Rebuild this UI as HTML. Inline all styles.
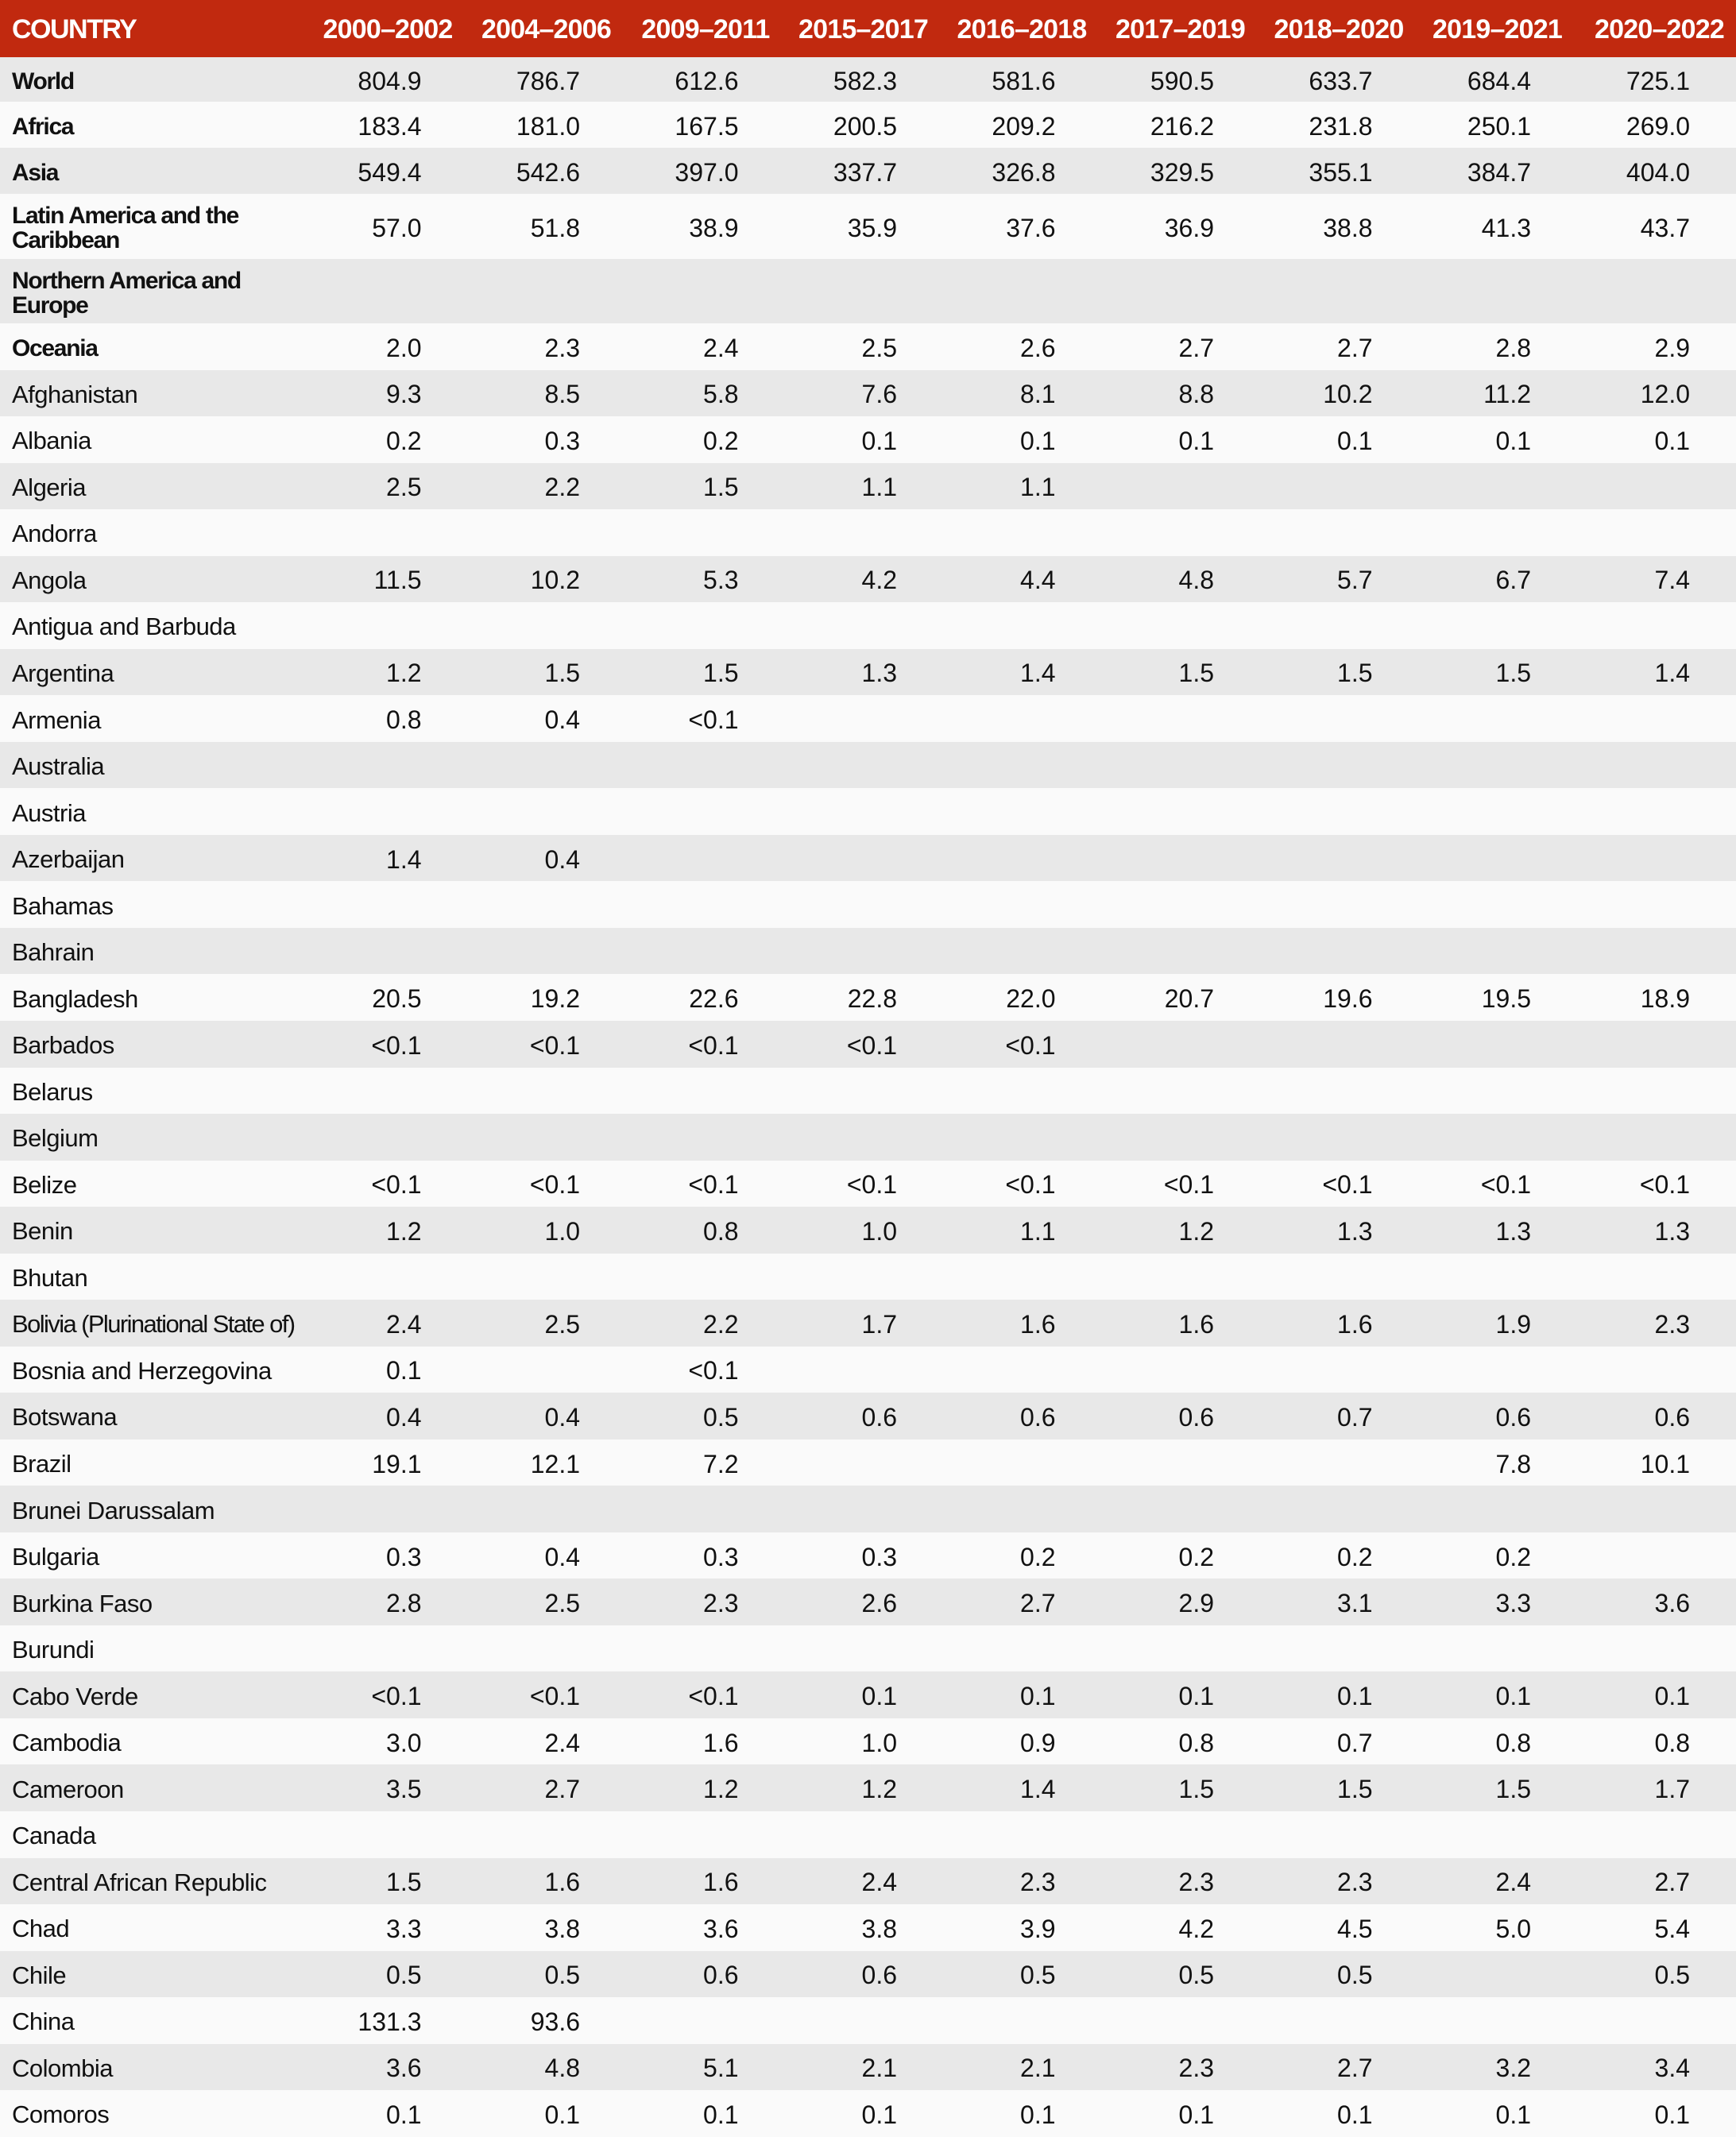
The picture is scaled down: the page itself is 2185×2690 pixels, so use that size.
<!DOCTYPE html>
<html><head><meta charset="utf-8"><style>
html,body{margin:0;padding:0;background:#fafafa;}
body{width:2185px;height:2688px;overflow:hidden;font-family:"Liberation Sans",sans-serif;}
table{border-collapse:collapse;table-layout:fixed;width:2185px;}
td,th{padding:0;vertical-align:middle;white-space:nowrap;}
th{background:#c1290f;color:#fff;font-size:34px;font-weight:bold;text-align:right;height:70px;letter-spacing:-0.8px;padding-right:2px;padding-top:2px;}
th:first-child{text-align:left;padding-left:15px;letter-spacing:-1.5px;}
th:last-child{padding-right:15px;}
td{font-size:32px;color:#111;text-align:right;padding-right:41px;padding-top:4px;}
td:first-child{text-align:left;padding-left:15px;padding-right:0;font-size:31px;letter-spacing:-0.5px;}
td:last-child{padding-right:58px;}
tr.b td:first-child{font-weight:bold;letter-spacing:-1.3px;line-height:31px;font-size:30px;}
tr:nth-child(even) td{background:#e8e8e8;}
tr:nth-child(odd) td{background:#fafafa;}
tr.r td{height:54.54px;}
</style></head><body>
<table>
<colgroup><col style="width:372px"><col style="width:199.5px"><col style="width:199.5px"><col style="width:199.5px"><col style="width:199.5px"><col style="width:199.5px"><col style="width:199.5px"><col style="width:199.5px"><col style="width:199.5px"><col style="width:217px"></colgroup>
<tr><th>COUNTRY</th><th>2000–2002</th><th>2004–2006</th><th>2009–2011</th><th>2015–2017</th><th>2016–2018</th><th>2017–2019</th><th>2018–2020</th><th>2019–2021</th><th>2020–2022</th></tr>
<tr class="b" style="height:56px"><td>World</td><td>804.9</td><td>786.7</td><td>612.6</td><td>582.3</td><td>581.6</td><td>590.5</td><td>633.7</td><td>684.4</td><td>725.1</td></tr>
<tr class="b" style="height:58px"><td>Africa</td><td>183.4</td><td>181.0</td><td>167.5</td><td>200.5</td><td>209.2</td><td>216.2</td><td>231.8</td><td>250.1</td><td>269.0</td></tr>
<tr class="b" style="height:58px"><td>Asia</td><td>549.4</td><td>542.6</td><td>397.0</td><td>337.7</td><td>326.8</td><td>329.5</td><td>355.1</td><td>384.7</td><td>404.0</td></tr>
<tr class="b" style="height:82px"><td>Latin America and the<br>Caribbean</td><td>57.0</td><td>51.8</td><td>38.9</td><td>35.9</td><td>37.6</td><td>36.9</td><td>38.8</td><td>41.3</td><td>43.7</td></tr>
<tr class="b" style="height:81px"><td>Northern America and<br>Europe</td><td></td><td></td><td></td><td></td><td></td><td></td><td></td><td></td><td></td></tr>
<tr class="b r"><td>Oceania</td><td>2.0</td><td>2.3</td><td>2.4</td><td>2.5</td><td>2.6</td><td>2.7</td><td>2.7</td><td>2.8</td><td>2.9</td></tr>
<tr class="r"><td>Afghanistan</td><td>9.3</td><td>8.5</td><td>5.8</td><td>7.6</td><td>8.1</td><td>8.8</td><td>10.2</td><td>11.2</td><td>12.0</td></tr>
<tr class="r"><td>Albania</td><td>0.2</td><td>0.3</td><td>0.2</td><td>0.1</td><td>0.1</td><td>0.1</td><td>0.1</td><td>0.1</td><td>0.1</td></tr>
<tr class="r"><td>Algeria</td><td>2.5</td><td>2.2</td><td>1.5</td><td>1.1</td><td>1.1</td><td></td><td></td><td></td><td></td></tr>
<tr class="r"><td>Andorra</td><td></td><td></td><td></td><td></td><td></td><td></td><td></td><td></td><td></td></tr>
<tr class="r"><td>Angola</td><td>11.5</td><td>10.2</td><td>5.3</td><td>4.2</td><td>4.4</td><td>4.8</td><td>5.7</td><td>6.7</td><td>7.4</td></tr>
<tr class="r"><td>Antigua and Barbuda</td><td></td><td></td><td></td><td></td><td></td><td></td><td></td><td></td><td></td></tr>
<tr class="r"><td>Argentina</td><td>1.2</td><td>1.5</td><td>1.5</td><td>1.3</td><td>1.4</td><td>1.5</td><td>1.5</td><td>1.5</td><td>1.4</td></tr>
<tr class="r"><td>Armenia</td><td>0.8</td><td>0.4</td><td>&lt;0.1</td><td></td><td></td><td></td><td></td><td></td><td></td></tr>
<tr class="r"><td>Australia</td><td></td><td></td><td></td><td></td><td></td><td></td><td></td><td></td><td></td></tr>
<tr class="r"><td>Austria</td><td></td><td></td><td></td><td></td><td></td><td></td><td></td><td></td><td></td></tr>
<tr class="r"><td>Azerbaijan</td><td>1.4</td><td>0.4</td><td></td><td></td><td></td><td></td><td></td><td></td><td></td></tr>
<tr class="r"><td>Bahamas</td><td></td><td></td><td></td><td></td><td></td><td></td><td></td><td></td><td></td></tr>
<tr class="r"><td>Bahrain</td><td></td><td></td><td></td><td></td><td></td><td></td><td></td><td></td><td></td></tr>
<tr class="r"><td>Bangladesh</td><td>20.5</td><td>19.2</td><td>22.6</td><td>22.8</td><td>22.0</td><td>20.7</td><td>19.6</td><td>19.5</td><td>18.9</td></tr>
<tr class="r"><td>Barbados</td><td>&lt;0.1</td><td>&lt;0.1</td><td>&lt;0.1</td><td>&lt;0.1</td><td>&lt;0.1</td><td></td><td></td><td></td><td></td></tr>
<tr class="r"><td>Belarus</td><td></td><td></td><td></td><td></td><td></td><td></td><td></td><td></td><td></td></tr>
<tr class="r"><td>Belgium</td><td></td><td></td><td></td><td></td><td></td><td></td><td></td><td></td><td></td></tr>
<tr class="r"><td>Belize</td><td>&lt;0.1</td><td>&lt;0.1</td><td>&lt;0.1</td><td>&lt;0.1</td><td>&lt;0.1</td><td>&lt;0.1</td><td>&lt;0.1</td><td>&lt;0.1</td><td>&lt;0.1</td></tr>
<tr class="r"><td>Benin</td><td>1.2</td><td>1.0</td><td>0.8</td><td>1.0</td><td>1.1</td><td>1.2</td><td>1.3</td><td>1.3</td><td>1.3</td></tr>
<tr class="r"><td>Bhutan</td><td></td><td></td><td></td><td></td><td></td><td></td><td></td><td></td><td></td></tr>
<tr class="r"><td style="letter-spacing:-1.6px">Bolivia (Plurinational State of)</td><td>2.4</td><td>2.5</td><td>2.2</td><td>1.7</td><td>1.6</td><td>1.6</td><td>1.6</td><td>1.9</td><td>2.3</td></tr>
<tr class="r"><td>Bosnia and Herzegovina</td><td>0.1</td><td></td><td>&lt;0.1</td><td></td><td></td><td></td><td></td><td></td><td></td></tr>
<tr class="r"><td>Botswana</td><td>0.4</td><td>0.4</td><td>0.5</td><td>0.6</td><td>0.6</td><td>0.6</td><td>0.7</td><td>0.6</td><td>0.6</td></tr>
<tr class="r"><td>Brazil</td><td>19.1</td><td>12.1</td><td>7.2</td><td></td><td></td><td></td><td></td><td>7.8</td><td>10.1</td></tr>
<tr class="r"><td>Brunei Darussalam</td><td></td><td></td><td></td><td></td><td></td><td></td><td></td><td></td><td></td></tr>
<tr class="r"><td>Bulgaria</td><td>0.3</td><td>0.4</td><td>0.3</td><td>0.3</td><td>0.2</td><td>0.2</td><td>0.2</td><td>0.2</td><td></td></tr>
<tr class="r"><td>Burkina Faso</td><td>2.8</td><td>2.5</td><td>2.3</td><td>2.6</td><td>2.7</td><td>2.9</td><td>3.1</td><td>3.3</td><td>3.6</td></tr>
<tr class="r"><td>Burundi</td><td></td><td></td><td></td><td></td><td></td><td></td><td></td><td></td><td></td></tr>
<tr class="r"><td>Cabo Verde</td><td>&lt;0.1</td><td>&lt;0.1</td><td>&lt;0.1</td><td>0.1</td><td>0.1</td><td>0.1</td><td>0.1</td><td>0.1</td><td>0.1</td></tr>
<tr class="r"><td>Cambodia</td><td>3.0</td><td>2.4</td><td>1.6</td><td>1.0</td><td>0.9</td><td>0.8</td><td>0.7</td><td>0.8</td><td>0.8</td></tr>
<tr class="r"><td>Cameroon</td><td>3.5</td><td>2.7</td><td>1.2</td><td>1.2</td><td>1.4</td><td>1.5</td><td>1.5</td><td>1.5</td><td>1.7</td></tr>
<tr class="r"><td>Canada</td><td></td><td></td><td></td><td></td><td></td><td></td><td></td><td></td><td></td></tr>
<tr class="r"><td>Central African Republic</td><td>1.5</td><td>1.6</td><td>1.6</td><td>2.4</td><td>2.3</td><td>2.3</td><td>2.3</td><td>2.4</td><td>2.7</td></tr>
<tr class="r"><td>Chad</td><td>3.3</td><td>3.8</td><td>3.6</td><td>3.8</td><td>3.9</td><td>4.2</td><td>4.5</td><td>5.0</td><td>5.4</td></tr>
<tr class="r"><td>Chile</td><td>0.5</td><td>0.5</td><td>0.6</td><td>0.6</td><td>0.5</td><td>0.5</td><td>0.5</td><td></td><td>0.5</td></tr>
<tr class="r"><td>China</td><td>131.3</td><td>93.6</td><td></td><td></td><td></td><td></td><td></td><td></td><td></td></tr>
<tr class="r"><td>Colombia</td><td>3.6</td><td>4.8</td><td>5.1</td><td>2.1</td><td>2.1</td><td>2.3</td><td>2.7</td><td>3.2</td><td>3.4</td></tr>
<tr class="r"><td>Comoros</td><td>0.1</td><td>0.1</td><td>0.1</td><td>0.1</td><td>0.1</td><td>0.1</td><td>0.1</td><td>0.1</td><td>0.1</td></tr>
</table>
</body></html>
